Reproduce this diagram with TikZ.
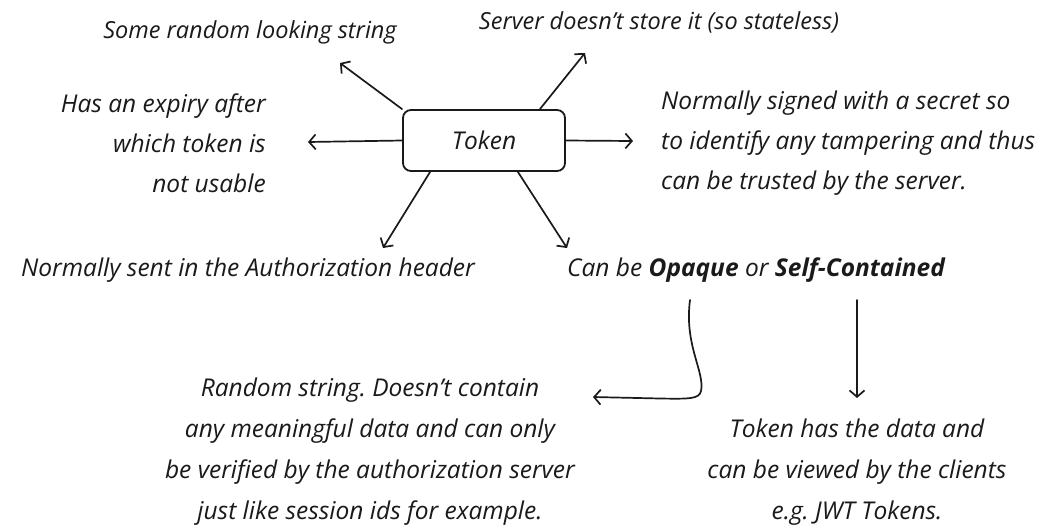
\documentclass[tikz,border=0pt]{standalone}
\usepackage{fontspec}
\setmainfont{Open Sans}
\usetikzlibrary{arrows.meta}
\definecolor{ink}{HTML}{1A1A1A}
\frenchspacing
\begin{document}
\begin{tikzpicture}[x=1pt,y=-1pt,
  txt/.style={font=\fontsize{24.5}{40}\selectfont\itshape, text=ink, inner sep=0pt},
  toptxt/.style={txt, font=\fontsize{23.5}{40}\selectfont\itshape},
  btxt/.style={txt, align=center, font=\fontsize{24.5}{41}\selectfont\itshape},
  box/.style={draw=ink, line width=1.8pt, rounded corners=8pt, minimum width=162pt, minimum height=61pt, inner sep=0pt},
  arr/.style={draw=ink, line width=1.7pt, line cap=round, line join=round, -{Straight Barb[length=6.5pt,width=15pt,line width=1.7pt]}}
]
\useasboundingbox (0,0) rectangle (1051,528);
\fill[white] (0,0) rectangle (1051,528);

\node[box, txt] (token) at (484,140.5) {Token};

\node[toptxt] (rand) at (250,32) {Some random looking string};
\node[toptxt] (server) at (659,22) {Server doesn’t store it (so stateless)};
\node[txt, anchor=east, align=right] (expiry) at (266,143) {Has an expiry after\\which token is\\not usable};
\node[txt, anchor=west, align=left] (signed) at (661,143) {Normally signed with a secret so\\to identify any tampering and thus\\can be trusted by the server.};
\node[txt] (authz) at (248,270) {Normally sent in the Authorization header};
\node[txt] (canbe) at (756,270) {Can be \textbf{Opaque} or \textbf{Self-Contained}};
\node[btxt] (opaque) at (370,451.5) {Random string. Doesn’t contain\\any meaningful data and can only\\be verified by the authorization server\\just like session ids for example.};
\node[btxt] (selfc) at (857,472.5) {Token has the data and\\can be viewed by the clients\\e.g. JWT Tokens.};

\coordinate (ulT) at (340,63);
\coordinate (urT) at (585,53);
\coordinate (lT) at (308,142);
\coordinate (rT) at (633,141);
\coordinate (llT) at (383,248);
\coordinate (lrT) at (567,248);
\coordinate (opS) at (690,300);
\coordinate (opT) at (593,397);
\coordinate (scS) at (857,300);
\coordinate (scT) at (857,398);

\draw[arr] (token.north west) -- (ulT);
\draw[arr] ([xshift=-26pt]token.north east) -- (urT);
\draw[arr] (token.west) -- (lT);
\draw[arr] (token.east) -- (rT);
\draw[arr] ([xshift=28pt]token.south west) -- (llT);
\draw[arr] ([xshift=-48pt]token.south east) -- (lrT);
\draw[arr] (opS) .. controls (684,345) and (705,372) .. (701,391) .. controls (699,399) and (690,399) .. (660,398.5) -- (opT);
\draw[arr] (scS) -- (scT);
\end{tikzpicture}
\end{document}
